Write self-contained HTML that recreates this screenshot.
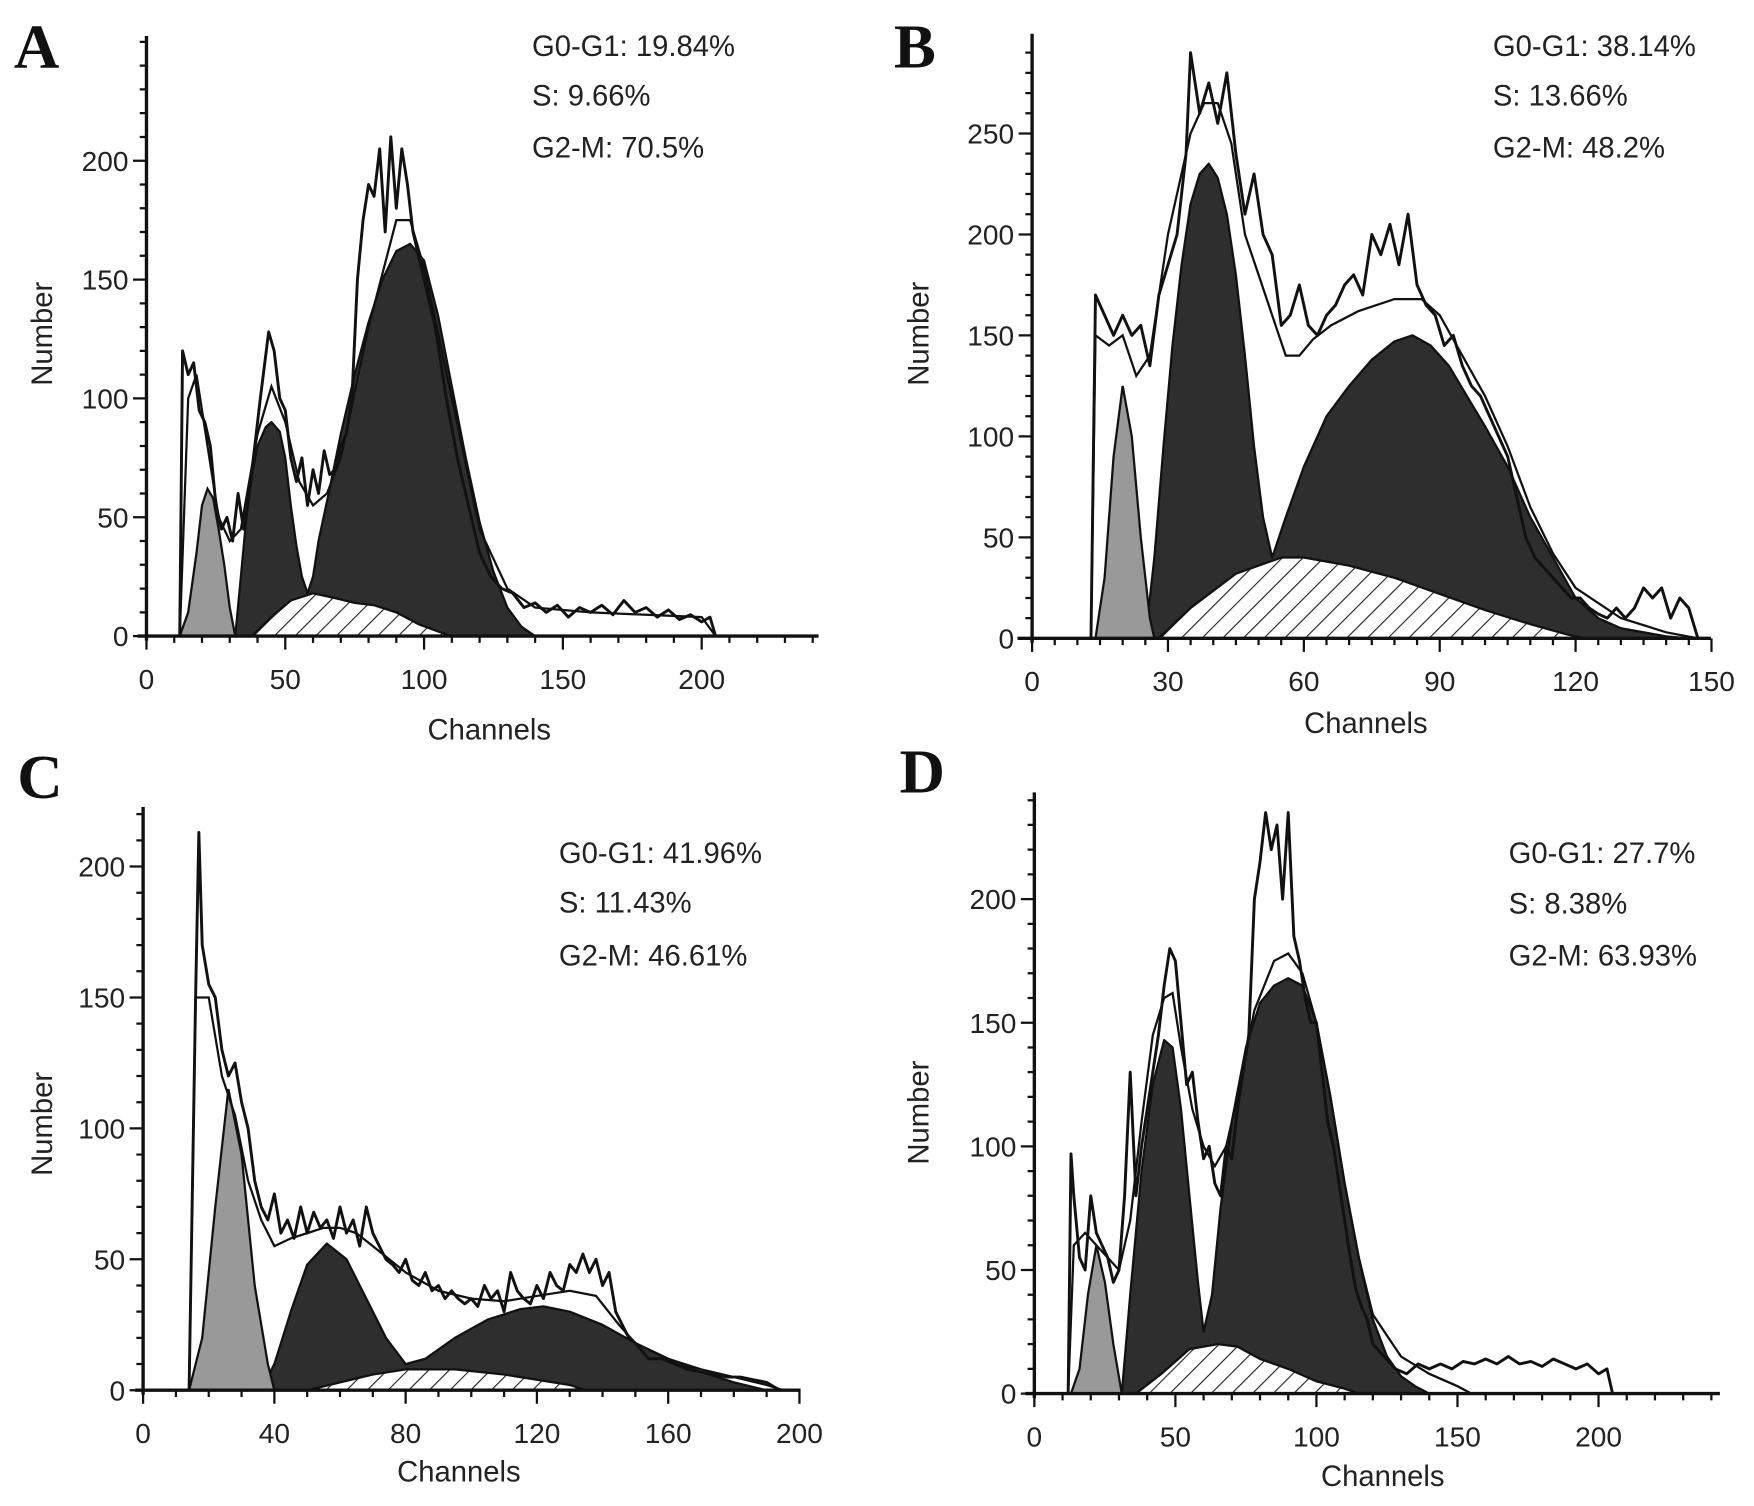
<!DOCTYPE html>
<html><head><meta charset="utf-8"><style>
html,body{margin:0;padding:0;background:#fff}
svg{display:block}
text{font-family:"Liberation Sans",sans-serif;fill:#222}
text.letter{font-family:"Liberation Serif",serif;fill:#111}
</style></head><body>
<svg id="fig" width="1754" height="1506" viewBox="0 0 1560 1340" xmlns="http://www.w3.org/2000/svg">
<defs>
<pattern id="hatch" patternUnits="userSpaceOnUse" width="13" height="13" patternTransform="rotate(45)">
<rect width="13" height="13" fill="#fff"/><line x1="0" y1="0" x2="0" y2="13" stroke="#222" stroke-width="2"/>
</pattern>
</defs>
</svg>
<script>
// ---------- Panel A data ----------
const aLightX=[12,15,18,20,22,24,26,28,30,32];
const aLightY=[0,10,35,55,62,58,45,30,12,0];
const aDarkX=[32,34,36,38,40,43,45,48,50,52,54,56,58,60,62,66,70,75,80,85,90,95,100,105,110,115,120,125,130,135,140];
const aDarkY=[0,25,50,68,80,88,90,86,75,55,38,25,18,25,40,62,85,110,132,150,162,165,158,135,105,75,48,27,12,4,0];
const aSX=[38,45,52,60,68,75,82,90,98,105,110];
const aSY=[0,8,15,18,16,14,13,10,5,2,0];
const aFitX=[12,15,18,22,26,30,34,40,45,50,55,60,65,70,80,90,95,100,110,120,130,140,160,180,200,205];
const aFitY=[0,100,110,80,50,40,45,85,105,90,65,55,60,75,130,175,175,155,100,45,20,12,10,9,8,0];
const aRawX=[12,13,15,17,19,21,23,25,27,29,31,33,35,38,41,44,46,48,50,52,54,56,58,60,62,64,66,68,70,72,74,76,78,80,82,84,86,88,90,92,94,96,98,100,104,108,112,116,120,124,128,132,136,140,144,148,152,156,160,164,168,172,176,180,184,188,192,196,200,203,205];
const aRawY=[0,120,110,115,95,90,80,55,45,50,40,60,45,70,100,128,120,100,95,75,65,75,55,70,60,78,68,70,80,85,100,150,175,190,185,205,170,210,180,205,190,170,160,150,130,100,75,55,35,25,20,18,12,14,10,13,8,12,10,13,9,15,10,12,8,11,7,9,6,8,0];
// ---------- Panel B data ----------
const bLightX=[14,16,18,20,22,24,26,27];
const bLightY=[0,30,90,125,100,50,10,0];
const bDarkX=[25,27,29,31,33,35,37,39,41,43,45,47,49,51,53,56,60,65,70,75,80,84,88,92,96,100,105,110,115,120,125,130,140,145];
const bDarkY=[0,40,95,145,185,215,230,235,228,210,180,140,95,60,40,60,85,110,125,138,147,150,145,135,120,105,85,60,40,20,10,5,1,0];
const bSX=[28,35,45,55,60,70,80,90,100,110,118,122];
const bSY=[0,15,32,40,40,36,30,22,14,7,2,0];
const bFitX=[13,14,17,20,23,26,30,35,38,41,44,47,50,53,56,59,62,66,72,80,86,90,95,100,105,110,115,120,130,140,147];
const bFitY=[0,150,145,150,130,140,200,250,265,265,245,200,180,160,140,140,148,155,162,168,168,160,140,120,95,65,42,25,10,3,0];
const bRawX=[13,14,16,18,20,22,24,26,28,30,32,34,35,37,39,41,43,45,47,49,51,53,55,57,59,61,63,65,67,69,71,73,75,77,79,81,83,85,87,89,91,93,95,97,99,101,103,105,107,109,111,113,115,117,119,121,123,125,127,129,131,133,135,137,139,141,143,145,147];
const bRawY=[0,170,160,150,160,150,155,135,170,185,200,240,290,260,275,255,280,240,210,230,200,190,155,160,175,155,150,160,165,175,180,170,200,190,205,185,210,175,165,160,145,150,135,125,120,110,100,90,70,50,40,35,30,25,20,20,15,12,10,15,10,15,25,20,25,10,20,15,0];
// ---------- Panel C data ----------
const cLightX=[14,18,22,26,30,34,38,40];
const cLightY=[0,20,70,115,90,40,10,0];
const cDarkX=[36,40,45,50,56,62,68,74,80,86,95,105,115,122,130,140,150,160,170,180,190];
const cDarkY=[0,10,30,48,56,50,35,20,10,12,20,27,31,32,30,25,18,12,7,3,0];
const cSX=[50,60,70,80,95,110,120,130,135];
const cSY=[0,3,6,8,8,6,4,2,0];
const cFitX=[14,16,20,24,28,32,36,40,45,50,55,60,65,70,75,80,90,100,110,120,130,138,145,150,160,170,180,190,195];
const cFitY=[0,150,150,120,105,80,65,55,58,60,62,62,60,55,50,45,38,35,34,36,38,36,25,18,12,8,5,2,0];
const cRawX=[14,16,17,18,20,22,24,26,28,30,32,34,36,38,40,42,44,46,48,50,52,54,56,58,60,62,64,66,68,70,72,74,76,78,80,82,84,86,88,90,92,94,96,98,100,102,104,106,108,110,112,114,116,118,120,122,124,126,128,130,132,134,136,138,140,142,144,146,148,150,154,158,162,166,170,174,178,182,186,190,194];
const cRawY=[0,150,213,170,155,150,130,120,125,110,100,80,70,65,75,60,65,58,70,60,68,62,65,58,70,60,65,55,70,60,55,50,48,45,50,42,40,45,38,40,35,38,35,33,35,32,40,35,38,30,45,38,35,33,40,35,45,40,38,48,45,52,45,50,40,45,30,25,20,18,12,12,10,8,7,6,5,5,4,3,0];
// ---------- Panel D data ----------
const dLightX=[13,16,19,22,25,28,31];
const dLightY=[0,10,40,60,45,20,0];
const dDarkX=[31,34,38,42,46,49,52,55,58,60,63,66,70,75,80,85,90,95,100,105,110,115,120,125,130,135,140];
const dDarkY=[0,40,90,125,143,140,115,80,45,25,40,75,110,140,158,165,168,165,150,120,85,55,30,15,7,3,0];
const dSX=[36,45,55,65,72,80,90,100,110,115];
const dSY=[0,8,18,20,19,14,10,5,2,0];
const dFitX=[12,14,18,22,26,30,34,38,42,46,49,52,56,60,64,68,72,78,85,90,95,100,105,110,115,120,130,140,150,155];
const dFitY=[0,60,65,60,55,50,70,110,145,160,162,140,115,100,92,100,120,155,175,178,170,150,120,85,55,32,15,8,3,0];
const dRawX=[12,13,14,16,18,20,22,24,26,28,30,32,34,36,38,40,42,44,46,48,50,52,54,56,58,60,62,64,66,68,70,72,74,76,78,80,82,84,86,88,90,92,94,96,98,100,102,104,106,108,110,112,114,116,118,120,124,128,132,136,140,144,148,152,156,160,164,168,172,176,180,184,188,192,196,200,203,205];
const dRawY=[0,97,80,55,50,80,65,60,55,45,50,80,130,80,100,115,130,145,165,180,175,150,125,130,110,95,100,85,80,100,95,115,130,145,200,215,235,220,230,200,235,185,175,160,150,150,130,110,100,85,70,55,42,35,30,20,15,10,8,12,10,12,10,13,12,14,12,15,12,13,11,14,12,10,12,8,10,0];
// ---------- Axis tick labels ----------
const aXTicks=[0,50,100,150,200], aYTicks=[0,50,100,150,200];
const bXTicks=[0,30,60,90,120,150], bYTicks=[0,50,100,150,200,250];
const cXTicks=[0,40,80,120,160,200], cYTicks=[0,50,100,150,200];
const dXTicks=[0,50,100,150,200], dYTicks=[0,50,100,150,200];
const aNotes=["G0-G1: 19.84%","S: 9.66%","G2-M: 70.5%"];
const bNotes=["G0-G1: 38.14%","S: 13.66%","G2-M: 48.2%"];
const cNotes=["G0-G1: 41.96%","S: 11.43%","G2-M: 46.61%"];
const dNotes=["G0-G1: 27.7%","S: 8.38%","G2-M: 63.93%"];

const NS="http://www.w3.org/2000/svg";
const svg=document.getElementById('fig');
function mk(tag,attrs,parent){const e=document.createElementNS(NS,tag);for(const k in attrs)e.setAttribute(k,attrs[k]);(parent||svg).appendChild(e);return e;}

const panels=[
 {id:'a',L:'A',lx:12,ly:60,x0:130,px:2.47,y0:566,py:2.115,xmin:122,xmax:728,ytop:32,
  xt:aXTicks,yt:aYTicks,minX:10,minY:10,notes:aNotes,nx:473,ny:[50,94,140],numX:46,numY:297,chX:435,chY:658,
  light:[aLightX,aLightY],dark:[aDarkX,aDarkY],s:[aSX,aSY],fit:[aFitX,aFitY],raw:[aRawX,aRawY]},
 {id:'b',L:'B',lx:795,ly:60,x0:918,px:4.03,y0:568,py:1.797,xmin:905,xmax:1522,ytop:30,
  xt:bXTicks,yt:bYTicks,minX:5,minY:10,notes:bNotes,nx:1328,ny:[50,94,140],numX:826,numY:297,chX:1215,chY:652,
  light:[bLightX,bLightY],dark:[bDarkX,bDarkY],s:[bSX,bSY],fit:[bFitX,bFitY],raw:[bRawX,bRawY]},
 {id:'c',L:'C',lx:15,ly:710,x0:127,px:2.92,y0:1237,py:2.33,xmin:120,xmax:712,ytop:718,
  xt:cXTicks,yt:cYTicks,minX:10,minY:10,notes:cNotes,nx:497,ny:[768,812,859],numX:46,numY:1000,chX:408,chY:1318,
  light:[cLightX,cLightY],dark:[cDarkX,cDarkY],s:[cSX,cSY],fit:[cFitX,cFitY],raw:[cRawX,cRawY]},
 {id:'d',L:'D',lx:800,ly:705,x0:920,px:2.51,y0:1240,py:2.2,xmin:912,xmax:1530,ytop:705,
  xt:dXTicks,yt:dYTicks,minX:10,minY:10,notes:dNotes,nx:1342,ny:[768,813,859],numX:826,numY:990,chX:1230,chY:1322,
  light:[dLightX,dLightY],dark:[dDarkX,dDarkY],s:[dSX,dSY],fit:[dFitX,dFitY],raw:[dRawX,dRawY]}
];

panels.forEach(p=>{
  const g=mk('g',{});
  
  
  const X=v=>p.x0+v*p.px, Y=v=>p.y0-v*p.py;
  function poly(arr,closed){let d='';arr[0].forEach((x,i)=>{d+=(i?'L':'M')+X(x).toFixed(1)+','+Y(arr[1][i]).toFixed(1);});return d+(closed?'Z':'');}
  const dk=mk('path',{d:poly(p.dark,true),fill:'#2e2e2e',stroke:'#111','stroke-width':2,'stroke-linejoin':'round'},g);
  
  
  const sp=mk('path',{d:poly(p.s,true),fill:'url(#hatch)',stroke:'#111','stroke-width':2},g);
  
  
  const lt=mk('path',{d:poly(p.light,true),fill:'#999',stroke:'#111','stroke-width':2},g);
  
  
  const ft=mk('path',{d:poly(p.fit,false),fill:'none',stroke:'#111','stroke-width':2},g);
  
  
  const rw=mk('path',{d:poly(p.raw,false),fill:'none',stroke:'#111','stroke-width':2.6,'stroke-linejoin':'round'},g);
  
  
  const ya=mk('line',{x1:p.x0,y1:p.ytop,x2:p.x0,y2:p.y0+4,stroke:'#111','stroke-width':3},g);
  
  
  const xa=mk('line',{x1:p.xmin,y1:p.y0,x2:p.xmax,y2:p.y0,stroke:'#111','stroke-width':3},g);
  
  
  let tk='';
  for(let v=0;Y(v)>=p.ytop;v+=p.minY){tk+='M'+(p.x0-6)+','+Y(v)+'h6';}
  for(let v=0;X(v)<=p.xmax;v+=p.minX){tk+='M'+X(v)+','+p.y0+'v6';}
  p.yt.forEach(v=>{tk+='M'+(p.x0-12)+','+Y(v)+'h12';});
  p.xt.forEach(v=>{tk+='M'+X(v)+','+p.y0+'v12';});
  const tp=mk('path',{d:tk,stroke:'#111','stroke-width':2,fill:'none'},g);
  
  
  p.yt.forEach(v=>{const t=mk('text',{x:p.x0-16,y:Y(v)+9,'font-size':25,'text-anchor':'end'},g);t.textContent=v;
    
    });
  p.xt.forEach(v=>{const t=mk('text',{x:X(v),y:p.y0+47,'font-size':25,'text-anchor':'middle'},g);t.textContent=v;
    
    });
  const xl=mk('text',{x:p.chX,y:p.chY,'font-size':26,'text-anchor':'middle'},g);xl.textContent='Channels';
  
  
  const yl=mk('text',{x:0,y:0,'font-size':26,'text-anchor':'middle',transform:`translate(${p.numX},${p.numY}) rotate(-90)`},g);yl.textContent='Number';
  
  
  p.notes.forEach((n,i)=>{const t=mk('text',{x:p.nx,y:p.ny[i],'font-size':26},g);t.textContent=n;
    
    });
  const lt2=mk('text',{x:p.lx,y:p.ly,'font-size':56,'font-weight':'bold','class':'letter'},g);lt2.textContent=p.L;
  
  
});
</script>
</body></html>
